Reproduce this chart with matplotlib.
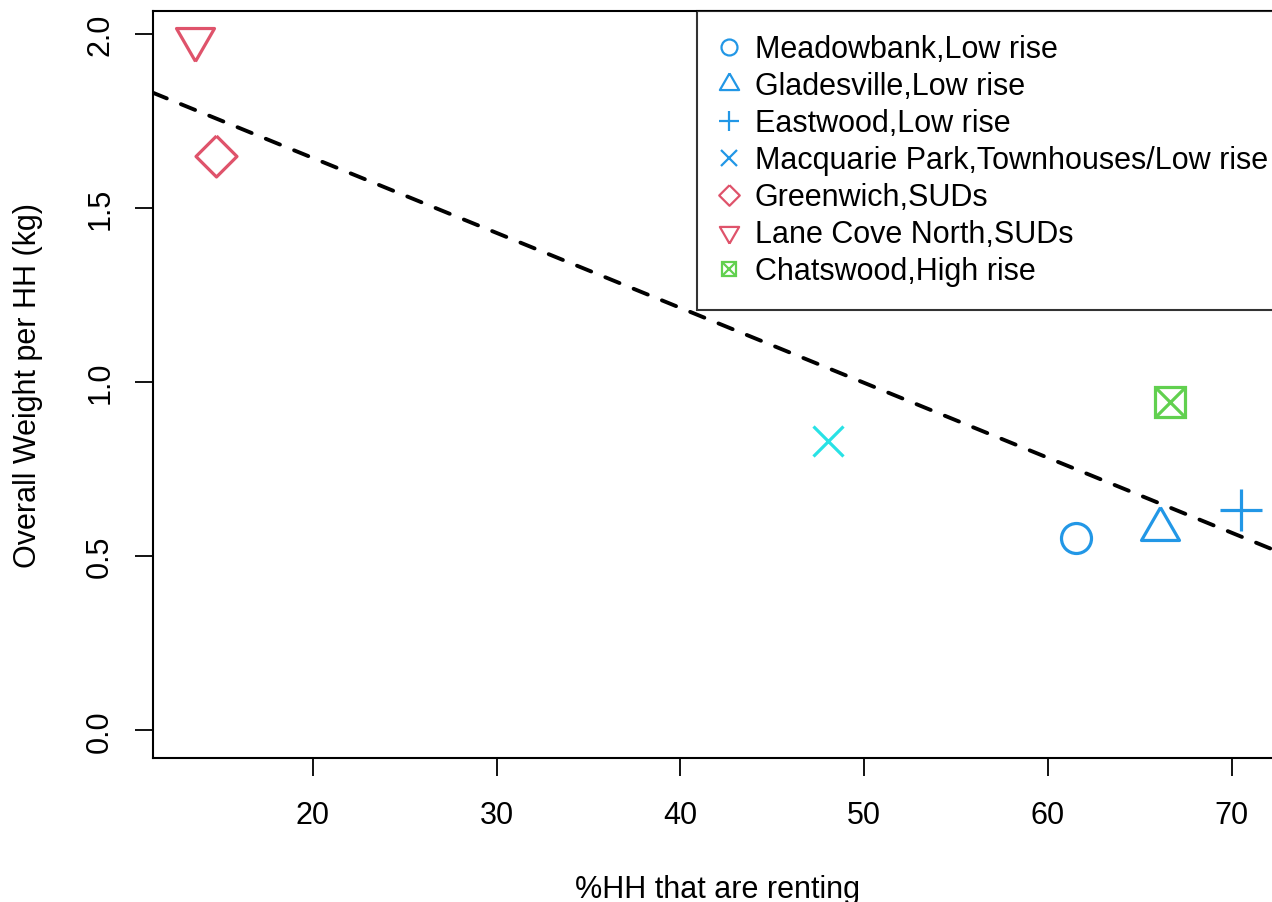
import numpy as np
import matplotlib
matplotlib.use("Agg")
import matplotlib.pyplot as plt
from matplotlib.lines import Line2D

plt.rcParams['font.family'] = ['Liberation Sans', 'DejaVu Sans']
plt.rcParams['lines.scale_dashes'] = False

# suburbs, building type, share of households renting, waste per household
sites = ["Meadowbank", "Gladesville", "Eastwood", "Macquarie Park",
         "Greenwich", "Lane Cove North", "Chatswood"]
types = ["Low rise", "Low rise", "Low rise", "Townhouses/Low rise",
         "SUDs", "SUDs", "High rise"]
renting = [61.54, 66.11, 70.52, 48.04, 14.74, 13.56, 66.67]
weight = [0.553, 0.579, 0.633, 0.831, 1.649, 1.986, 0.944]

blue = "#2297E6"
red = "#DF536B"
green = "#61D04F"
cyan = "#28E2E5"
point_cols = [blue, blue, blue, cyan, red, red, green]
legend_cols = [blue, blue, blue, blue, red, red, green]

tri_up = [(0, 1), (-0.866, -0.5), (0.866, -0.5), (0, 1)]
tri_dn = [(0, -1), (-0.866, 0.5), (0.866, 0.5), (0, -1)]
diamond = [(0, 1), (1, 0), (0, -1), (-1, 0), (0, 1)]
shapes = ["o", tri_up, "+", "x", diamond, tri_dn, "s"]
# marker sizes in points for the plot and the legend
sizes = [21.6, 31.6, 30, 21.6, 29.5, 31.6, 21.6]
leg_sizes = [11.5, 16, 15, 11.4, 14.8, 16, 10.6]

x = np.array(renting)
y = np.array(weight)

fig = plt.figure(figsize=(12.72, 9.03), dpi=100)
ax = fig.add_axes([0.12, 0.1595, 0.8886, 0.8272])

for xi, yi, m, c, s in zip(x, y, shapes, point_cols, sizes):
    ax.plot(xi, yi, linestyle="none", marker=m, markersize=s,
            markerfacecolor="none", markeredgecolor=c, markeredgewidth=2.3,
            color=c, clip_on=False)
# Chatswood gets a cross inside its square
ax.plot(x[6], y[6], linestyle="none", marker="x", markersize=21.6,
        color=green, markeredgewidth=2.3)

# least squares fit
slope, icpt = np.polyfit(x, y, 1)
xpad = 0.04 * (x.max() - x.min())
xlo, xhi = x.min() - xpad, x.max() + xpad
ax.plot([xlo, xhi], [icpt + slope * xlo, icpt + slope * xhi], color="black",
        lw=2.8, dashes=(11, 11), dash_capstyle="round")

ax.set_xlim(xlo, xhi)
ypad = 0.04 * y.max()
ax.set_ylim(-ypad, y.max() + ypad)

ax.set_xticks([20, 30, 40, 50, 60, 70])
ax.set_yticks([0.0, 0.5, 1.0, 1.5, 2.0])
ax.set_yticklabels(["0.0", "0.5", "1.0", "1.5", "2.0"], rotation=90, va="center")
ax.tick_params(axis="both", direction="out", length=13, width=1.3,
               labelsize=22, pad=17.5)
ax.tick_params(axis="y", pad=14)
for sp in ax.spines.values():
    sp.set_linewidth(1.5)

ax.set_xlabel("%HH that are renting", fontsize=22, labelpad=31.5)
ax.set_ylabel("Overall Weight per HH (kg)", fontsize=22, labelpad=30)

handles = []
for m, c, s in zip(shapes, legend_cols, leg_sizes):
    h = Line2D([], [], linestyle="none", marker=m, markersize=s,
               markerfacecolor="none", markeredgecolor=c, markeredgewidth=1.6)
    handles.append(h)
box_x = Line2D([], [], linestyle="none", marker="x", markersize=10.6,
               markeredgecolor=green, markeredgewidth=1.6)
handles[6] = (handles[6], box_x)
labels = [f"{s},{t}" for s, t in zip(sites, types)]
leg = ax.legend(handles, labels, loc="upper right", fontsize=22,
                bbox_to_anchor=(1.007, 1.0),
                frameon=True, fancybox=False, borderaxespad=0,
                handlelength=0.6, handletextpad=0.52, labelspacing=0.23,
                borderpad=0.76)
leg.get_frame().set_edgecolor("black")
leg.get_frame().set_linewidth(1.5)

fig.savefig("out.png", dpi=100)
